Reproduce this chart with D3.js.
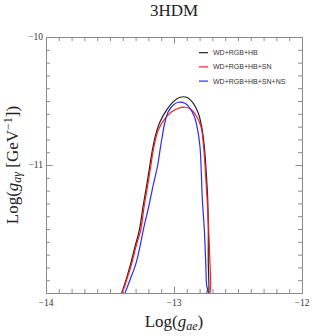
<!DOCTYPE html>
<html>
<head>
<meta charset="utf-8">
<script src="https://cdn.jsdelivr.net/npm/d3@7"></script>
<style>
  body { margin: 0; background: #fff; }
  svg { display: block; }
</style>
</head>
<body>
<svg width="312" height="336"></svg>
<script>
// contours, [log g_ae, log g_aγ]
const blackCurve = [
  [-13.409, -12.0], [-13.375, -11.898], [-13.338, -11.768], [-13.305, -11.638],
  [-13.271, -11.508], [-13.240, -11.313], [-13.213, -11.156],
  [-13.188, -11.0], [-13.170, -10.890], [-13.145, -10.770], [-13.109, -10.662],
  [-13.057, -10.570], [-13.005, -10.505], [-12.953, -10.471], [-12.901, -10.471],
  [-12.849, -10.518], [-12.810, -10.596], [-12.784, -10.701], [-12.763, -10.857],
  [-12.752, -11.0], [-12.737, -11.258], [-12.732, -11.508], [-12.732, -11.768],
  [-12.727, -11.961], [-12.729, -12.0]
];
const redCurve = [
  [-13.404, -12.0], [-13.370, -11.898], [-13.330, -11.768], [-13.297, -11.638],
  [-13.260, -11.508], [-13.232, -11.313], [-13.205, -11.156],
  [-13.180, -11.0], [-13.162, -10.883], [-13.123, -10.727], [-13.070, -10.635],
  [-13.018, -10.584], [-12.966, -10.557], [-12.914, -10.549], [-12.862, -10.570],
  [-12.823, -10.621], [-12.789, -10.701], [-12.771, -10.830], [-12.758, -11.0],
  [-12.742, -11.258], [-12.727, -11.547], [-12.719, -11.768], [-12.713, -11.945],
  [-12.719, -12.0]
];
const blueCurve = [
  [-13.383, -12.0], [-13.344, -11.898], [-13.297, -11.768], [-13.266, -11.638],
  [-13.240, -11.508], [-13.195, -11.313], [-13.162, -11.156],
  [-13.127, -11.0], [-13.105, -10.857], [-13.070, -10.662], [-13.045, -10.584],
  [-13.005, -10.531], [-12.966, -10.510], [-12.914, -10.518], [-12.875, -10.557],
  [-12.841, -10.621], [-12.815, -10.727], [-12.797, -10.857], [-12.789, -11.0],
  [-12.779, -11.258], [-12.763, -11.508], [-12.752, -11.768], [-12.745, -11.938],
  [-12.737, -11.977], [-12.745, -12.0]
];

const seriesNames = ["WD+RGB+HB", "WD+RGB+HB+SN", "WD+RGB+HB+SN+NS"];
const seriesColors = ["#222222", "#ff1a1a", "#2a2aff"];
const seriesData = [blackCurve, redCurve, blueCurve];

const xMajor = [-14, -13, -12];
const yMajor = [-10, -11];

const svg = d3.select("svg");
const plotLeft = 46, plotRight = 302, plotTop = 37, plotBottom = 293;

const x = d3.scaleLinear().domain([-14, -12]).range([plotLeft, plotRight]);
const y = d3.scaleLinear().domain([-12, -10]).range([plotBottom, plotTop]);

const minorX = d3.range(-140, -119).map(d => d / 10);
const minorY = d3.range(-120, -99).map(d => d / 10);

svg.append("clipPath").attr("id", "clip")
  .append("rect").attr("x", plotLeft).attr("y", plotTop)
  .attr("width", plotRight - plotLeft).attr("height", plotBottom - plotTop);

// curves
const line = d3.line()
  .x(d => x(d[0]))
  .y(d => y(d[1]))
  .curve(d3.curveCatmullRom.alpha(0.5));

svg.append("g").attr("clip-path", "url(#clip)")
  .selectAll("path")
  .data(seriesData)
  .enter().append("path")
  .attr("d", line)
  .attr("fill", "none")
  .attr("stroke", (d, i) => seriesColors[i])
  .attr("stroke-width", 1.2);

// frame with ticks on every side
const frameColor = "#8a8a8a";
function styleAxis(g) {
  g.select(".domain").attr("stroke", frameColor);
  g.selectAll(".tick line").attr("stroke", frameColor);
}

const axisMakers = [
  [d3.axisBottom, x, `translate(0,${plotBottom})`],
  [d3.axisTop, x, `translate(0,${plotTop})`],
  [d3.axisLeft, y, `translate(${plotLeft},0)`],
  [d3.axisRight, y, `translate(${plotRight},0)`]
];
axisMakers.forEach(([make, scale, tr], k) => {
  const isX = k < 2;
  svg.append("g").attr("transform", tr)
    .call(make(scale).tickValues(isX ? minorX : minorY).tickFormat("").tickSize(-4).tickSizeOuter(0))
    .call(styleAxis);
  svg.append("g").attr("transform", tr)
    .call(make(scale).tickValues(isX ? xMajor : [-12, -11, -10]).tickFormat("").tickSize(-6.5).tickSizeOuter(0))
    .call(styleAxis);
});

// tick labels
svg.append("g").selectAll("text")
  .data(xMajor).enter().append("text")
  .attr("x", d => x(d))
  .attr("y", plotBottom + 12.5)
  .attr("text-anchor", "middle")
  .attr("font-family", "Liberation Serif, serif")
  .attr("font-size", 9.5)
  .attr("fill", "#333")
  .text(d => d3.format("d")(d));

svg.append("g").selectAll("text")
  .data(yMajor).enter().append("text")
  .attr("x", plotLeft - 3)
  .attr("y", d => y(d) + 3.3)
  .attr("text-anchor", "end")
  .attr("font-family", "Liberation Serif, serif")
  .attr("font-size", 9.5)
  .attr("fill", "#333")
  .text(d => d3.format("d")(d));

// title
svg.append("text")
  .attr("x", (plotLeft + plotRight) / 2).attr("y", 16)
  .attr("text-anchor", "middle")
  .attr("font-family", "Liberation Serif, serif")
  .attr("font-size", 17)
  .attr("fill", "#222")
  .text("3HDM");

// x label
const xl = svg.append("text")
  .attr("x", (plotLeft + plotRight) / 2).attr("y", 327)
  .attr("text-anchor", "middle")
  .attr("font-family", "Liberation Serif, serif")
  .attr("font-size", 17)
  .attr("fill", "#222");
xl.append("tspan").text("Log(");
xl.append("tspan").attr("font-style", "italic").text("g");
xl.append("tspan").attr("font-style", "italic").attr("font-size", 12).attr("dy", 3).text("ae");
xl.append("tspan").attr("dy", -3).text(")");

// y label
const yl = svg.append("text")
  .attr("transform", `translate(18,${(plotTop + plotBottom) / 2}) rotate(-90)`)
  .attr("text-anchor", "middle")
  .attr("font-family", "Liberation Serif, serif")
  .attr("font-size", 17)
  .attr("fill", "#222");
yl.append("tspan").text("Log(");
yl.append("tspan").attr("font-style", "italic").text("g");
yl.append("tspan").attr("font-style", "italic").attr("font-size", 12).attr("dy", 3).text("aγ");
yl.append("tspan").attr("dy", -3).text(" [GeV");
yl.append("tspan").attr("font-size", 12).attr("dy", -6).text("−1");
yl.append("tspan").attr("dy", 6).text("])");

// legend
const legend = svg.append("g").selectAll("g")
  .data(seriesNames).enter().append("g")
  .attr("transform", (d, i) => `translate(199,${52.7 + i * 14.2})`);
legend.append("line")
  .attr("x1", 0).attr("x2", 9)
  .attr("stroke", (d, i) => seriesColors[i])
  .attr("stroke-width", 1.2);
legend.append("text")
  .attr("x", 14).attr("y", 2.5)
  .attr("font-family", "Liberation Sans, Arial, sans-serif")
  .attr("font-size", 7)
  .attr("fill", "#333")
  .text(d => d);
</script>
</body>
</html>
